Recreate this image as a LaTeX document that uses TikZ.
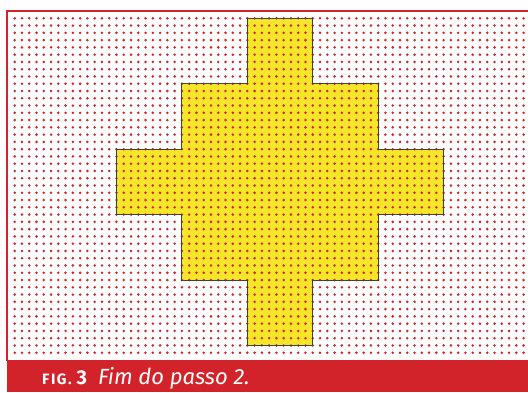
\documentclass[tikz,border=0pt]{standalone}
\usepackage{fontspec}
\setsansfont{Fira Sans}
\definecolor{figred}{HTML}{D2232A}
\definecolor{crossyellow}{HTML}{F5E629}
\tikzset{
  griddot/.style={fill=figred},
  crossline/.style={draw=black!75, line width=0.9pt},
  framered/.style={draw=figred, line width=2pt},
}
\begin{document}
\begin{tikzpicture}[x=1pt,y=-1pt]
\useasboundingbox (0,0) rectangle (528,392);
\fill[white] (0,0) rectangle (528,392);
% frame
\draw[framered] (7,361) -- (7,11) -- (528,11);
% cross and dots
\begin{scope}[shift={(14.7,18.3)}, x=7.27pt, y=-7.27pt]
\fill[crossyellow] (32,0) -| (41,9) -| (50,18) -| (59,27) -| (50,36) -| (41,45)
  -| (32,36) -| (23,27) -| (14,18) -| (23,9) -| (32,0) -- cycle;
\foreach \i in {0,...,70}
  \foreach \j in {0,...,46}
    \fill[griddot] (\i,\j) circle (1.4pt);
\draw[crossline] (32,0) -| (41,9) -| (50,18) -| (59,27) -| (50,36) -| (41,45)
  -| (32,36) -| (23,27) -| (14,18) -| (23,9) -| (32,0) -- cycle;
\end{scope}
% caption
\fill[figred] (7,360) rectangle (528,392);
\node[anchor=base west, inner sep=0pt, text=white, font=\sffamily] (caption) at (42,384)
  {{\bfseries\fontsize{15}{15}\selectfont\addfontfeatures{LetterSpace=10}FIG.}\hspace{5pt}{\bfseries\fontsize{20}{20}\selectfont 3}\hspace{11pt}{\itshape\fontsize{22}{22}\selectfont Fim do passo 2.}};
\end{tikzpicture}
\end{document}
